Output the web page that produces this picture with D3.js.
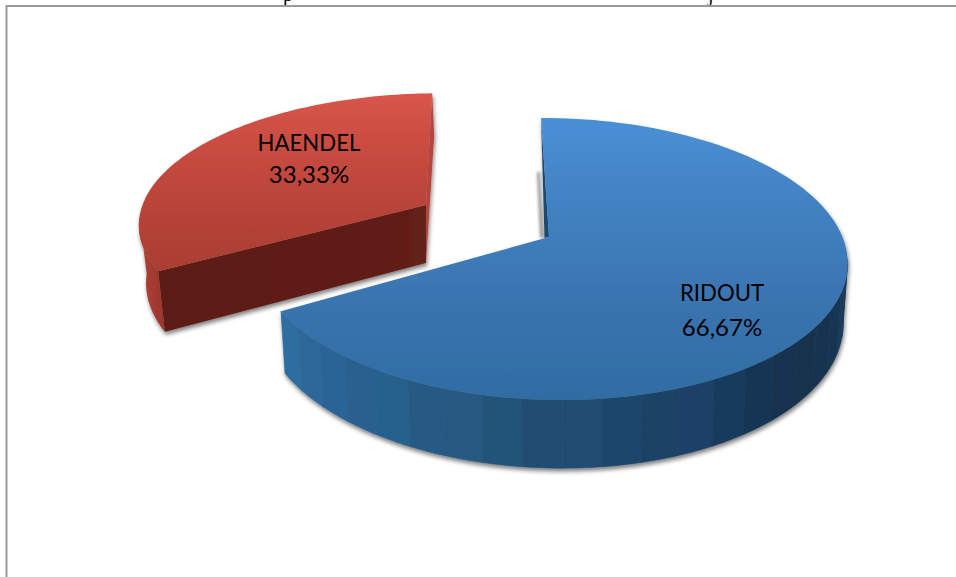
<!DOCTYPE html>
<html><head><meta charset="utf-8">
<style>html,body{margin:0;padding:0;background:#fff;overflow:hidden}svg{display:block}</style>
<script src="https://cdn.jsdelivr.net/npm/d3@7/dist/d3.min.js"></script>
</head><body><svg id="c" width="956" height="577"></svg>
<script>
const categories = ["RIDOUT", "HAENDEL"];
const shares = [66.67, 33.33];
const shareLabels = ["66,67%", "33,33%"];

const svg = d3.select("#c");
const defs = svg.append("defs");

function vGrad(id, y1, y2, stops){
  const g = defs.append("linearGradient").attr("id",id).attr("gradientUnits","userSpaceOnUse")
    .attr("x1",0).attr("x2",0).attr("y1",y1).attr("y2",y2);
  stops.forEach(s=>g.append("stop").attr("offset",s[0]).attr("stop-color",s[1]));
}
function hGrad(id, x1, x2, stops){
  const g = defs.append("linearGradient").attr("id",id).attr("gradientUnits","userSpaceOnUse")
    .attr("y1",0).attr("y2",0).attr("x1",x1).attr("x2",x2);
  stops.forEach(s=>g.append("stop").attr("offset",s[0]).attr("stop-color",s[1]));
}
vGrad("blueTop",118,400,[[0,"#4a90d6"],[0.3,"#4282c2"],[0.65,"#3a74b0"],[1,"#2f6ca3"]]);
vGrad("redTop",93,272,[[0,"#d8554a"],[0.5,"#bf463b"],[1,"#a83e32"]]);
hGrad("redWall",140,170,[[0,"#b04236"],[1,"#93322a"]]);
hGrad("redCut",158,430,[[0,"#5c1a16"],[0.7,"#5f1b16"],[0.9,"#621e18"],[1,"#66221b"]]);

// stepped shades of the blue outer wall, from its left end to its right end
const blueWallShades = ["#2f6da0","#2d6899","#2b6495","#2a6090","#28608c","#265a85","#275882","#235379","#214c72","#214b72","#1f466b","#1c4266","#1c4066","#173a5c","#153655","#14314f","#14304e","#16334f","#143452","#1a3a58","#1b3a58"];

const shadow = defs.append("filter").attr("id","sh").attr("x","-10%").attr("y","-10%").attr("width","120%").attr("height","125%");
shadow.append("feDropShadow").attr("dx",1).attr("dy",3).attr("stdDeviation",2).attr("flood-color","#000").attr("flood-opacity",0.5);
const blur = defs.append("filter").attr("id","bl").attr("x","-100%").attr("y","-10%").attr("width","300%").attr("height","120%");
blur.append("feGaussianBlur").attr("stdDeviation",1.5);

// clipped heading above the frame
const headFont = "'Liberation Serif',serif";
svg.append("text").attr("x",283).attr("y",0.5).attr("font-family",headFont).attr("font-size",20).attr("fill","#000").text("p");
svg.append("text").attr("x",708).attr("y",0.5).attr("font-family",headFont).attr("font-size",20).attr("fill","#000").text("j");

// frame
svg.append("path").attr("d","M6.5,577V6H956").attr("fill","none").attr("stroke","#9a9a9a").attr("stroke-width",2);

// pie layout: slices run clockwise from the top
const pie = d3.pie().sort(null)(shares);

// perspective projection of the slice's unit disc onto the page
function projector(p){
  return (a, r=1, drop=0)=>{
    const u = r*Math.sin(a), v = r*Math.cos(a);
    const den = 1 + p.c*v + p.g*u;
    const shrink = drop ? p.shrink : 1;
    return [
      p.ax + shrink*(p.R*u + p.e*v)/den,
      p.ay + (p.a*v)/den + drop*p.depth/den
    ];
  };
}
const models = [
  {ax:549,ay:237,R:292,e:-9.2,a:-137.6,c:0.156,g:-0.005,depth:57.5,shrink:0.985},
  {ax:426,ay:205,R:292,e:7,a:-127,c:0.137,g:-0.03,depth:58,shrink:0.975}
];
const angles = (s,e,n=90)=>d3.range(n+1).map(i=>s+(e-s)*i/n);
const line = d3.line();

// RED slice
{
  const d = pie[1], P = projector(models[1]);
  const g = svg.append("g").attr("filter","url(#sh)");
  const A = angles(d.startAngle, Math.PI*1.47, 20);
  const wall = A.map(a=>P(a)).concat(A.slice().reverse().map(a=>P(a,1,1)));
  g.append("path").attr("d",line(wall)+"Z").attr("fill","url(#redWall)");
  const s = P(d.startAngle), e = P(d.endAngle);
  const sb = P(d.startAngle,1,1);
  const apex = P(0,0), apexB = P(0,0,1);
  g.append("path").attr("d",line([e,[e[0]+2,e[1]+42],apexB,apex])+"Z").attr("fill","#b5443a");
  g.append("path").attr("d",line([s,apex,apexB,sb])+"Z").attr("fill","url(#redCut)");
  const top = [apex].concat(angles(d.startAngle,d.endAngle).map(a=>P(a)));
  g.append("path").attr("d",line(top)+"Z").attr("fill","url(#redTop)");
}
// BLUE slice
{
  const d = pie[0], P = projector(models[0]);
  const apex = P(0,0), t = P(0);
  svg.append("path").attr("d",line([[537,172],[540,172],[544,238],[540,238]])+"Z").attr("fill","#999").attr("filter","url(#bl)");
  const g = svg.append("g").attr("filter","url(#sh)");
  g.append("path").attr("d",line([t,[apex[0]-4.5,apex[1]+1],apex])+"Z").attr("fill","#1f4a72");
  // outer wall as stepped bands
  const w0 = d.endAngle, w1 = Math.PI*0.55, n = blueWallShades.length;
  blueWallShades.forEach((c,i)=>{
    const A = angles(w0+(w1-w0)*i/n, w0+(w1-w0)*(i+1)/n, 6);
    const band = A.map(a=>P(a)).concat(A.slice().reverse().map(a=>P(a,1,1)));
    g.append("path").attr("d",line(band)+"Z").attr("fill",c).attr("stroke",c).attr("stroke-width",0.6);
  });
  const top = [apex].concat(angles(d.startAngle,d.endAngle,120).map(a=>P(a)));
  g.append("path").attr("d",line(top)+"Z").attr("fill","url(#blueTop)");
}

// labels
const labelFont = "Lato, Carlito, sans-serif";
const labelPos = [[722,301,336],[309,151,183]];
pie.forEach((d,i)=>{
  svg.append("text").attr("x",labelPos[i][0]).attr("y",labelPos[i][1]).attr("text-anchor","middle")
    .attr("font-family",labelFont).attr("font-size",22.2).attr("fill","#000").text(categories[i]);
  svg.append("text").attr("x",labelPos[i][0]).attr("y",labelPos[i][2]).attr("text-anchor","middle")
    .attr("font-family",labelFont).attr("font-size",24).attr("fill","#000").text(shareLabels[i]);
});
</script></body></html>
